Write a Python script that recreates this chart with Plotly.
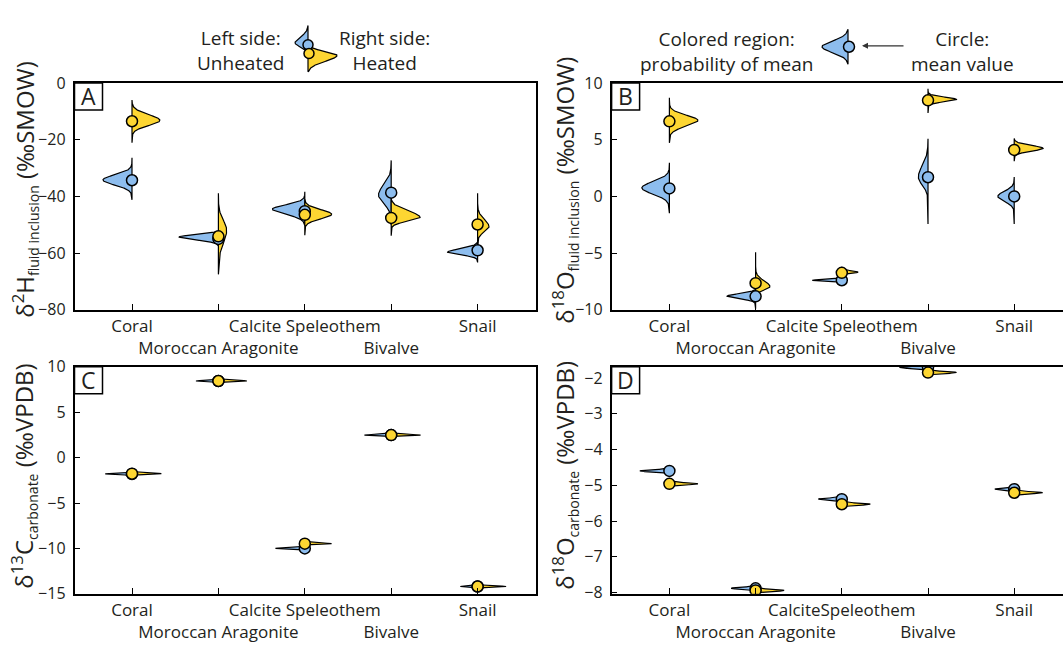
import numpy as np
import plotly.graph_objects as go

W, H = 1063, 649

# ---------------- data ----------------
categories = ["Coral", "Moroccan Aragonite", "Calcite Speleothem", "Bivalve", "Snail"]
cat_pos = [1, 2, 3, 4, 5]
ticktext_main = ["Coral", " <br>Moroccan Aragonite", "Calcite Speleothem", " <br>Bivalve", "Snail"]
ticktext_D = ["Coral", " <br>Moroccan Aragonite", "CalciteSpeleothem", " <br>Bivalve", "Snail"]

# Panel A: d2H fluid inclusion (permil SMOW)
A_unh_mean = [-34.3, -55.0, -45.2, -38.7, -59.0]
A_unh_peak = [-34.2, -54.3, -44.5, -39.5, -59.7]
A_unh_sdlo = [1.8, 1.0, 1.8, 3.0, 0.9]
A_unh_sdhi = [1.8, 0.8, 1.5, 3.5, 1.2]
A_unh_width = [0.336, 0.455, 0.375, 0.147, 0.347]
A_unh_lo = [-41.2, -57.5, -50.3, -50.0, -63.3]
A_unh_hi = [-26.4, -52.5, -38.4, -27.3, -56.0]

A_hea_mean = [-13.5, -54.1, -46.5, -47.6, -49.9]
A_hea_peak = [-13.2, -52.0, -46.3, -47.4, -50.7]
A_hea_sdlo = [1.8, 4.5, 1.6, 1.3, 1.8]
A_hea_sdhi = [2.0, 3.5, 1.6, 2.2, 2.5]
A_hea_width = [0.323, 0.096, 0.311, 0.335, 0.132]
A_hea_lo = [-21.1, -67.5, -53.7, -53.9, -58.0]
A_hea_hi = [-6.0, -38.9, -41.0, -41.0, -38.9]

# Panel B: d18O fluid inclusion (permil SMOW)
B_unh_mean = [0.70, -8.81, -7.39, 1.69, 0.0]
B_unh_peak = [0.75, -8.80, -7.40, 1.70, 0.0]
B_unh_sdlo = [0.55, 0.22, 0.07, 0.7, 0.45]
B_unh_sdhi = [0.55, 0.22, 0.07, 1.0, 0.45]
B_unh_width = [0.32, 0.331, 0.343, 0.112, 0.19]
B_unh_lo = [-1.49, -9.9, -7.7, -2.43, -2.43]
B_unh_hi = [2.96, -8.2, -7.1, 5.09, 1.7]

B_hea_mean = [6.62, -7.65, -6.74, 8.47, 4.10]
B_hea_peak = [6.70, -7.95, -6.68, 8.55, 4.24]
B_hea_sdlo = [0.5, 0.3, 0.1, 0.2, 0.25]
B_hea_sdhi = [0.45, 0.5, 0.12, 0.2, 0.25]
B_hea_width = [0.331, 0.166, 0.189, 0.331, 0.336]
B_hea_lo = [4.72, -9.3, -7.0, 7.36, 3.1]
B_hea_hi = [8.7, -4.92, -6.2, 9.49, 5.1]

# Panel C: d13C carbonate (permil VPDB)
C_unh_mean = [-1.80, 8.44, -10.0, 2.48, -14.19]
C_hea_mean = [-1.77, 8.44, -9.47, 2.48, -14.19]
C_unh_width = [0.31, 0.26, 0.34, 0.31, 0.20]
C_hea_width = [0.34, 0.33, 0.31, 0.34, 0.33]
C_spread = [0.07, 0.07, 0.07, 0.07, 0.07]

# Panel D: d18O carbonate (permil VPDB)
D_unh_mean = [-4.60, -7.88, -5.39, -1.71, -5.11]
D_hea_mean = [-4.96, -7.94, -5.53, -1.85, -5.21]
D_unh_width = [0.343, 0.284, 0.272, 0.331, 0.225]
D_hea_width = [0.331, 0.331, 0.331, 0.331, 0.331]
D_spread = [0.03, 0.03, 0.03, 0.03, 0.03]

A_yticks = [0, -20, -40, -60, -80]
B_yticks = [10, 5, 0, -5, -10]
C_yticks = [10, 5, 0, -5, -10, -15]
D_yticks = [-2, -3, -4, -5, -6, -7, -8]

# ---------------- style ----------------
BLUE = "#8DBDEE"
YELLOW = "#FDD632"
INK = "#231F20"
FONT = "Open Sans"


def half_violin(c, peak, sdlo, sdhi, width, lo, hi, side):
    y = np.linspace(lo, hi, 300)
    s = np.where(y < peak, sdlo, sdhi)
    dens = np.exp(-0.5 * ((y - peak) / s) ** 2)
    x = c + side * width * dens
    xs = np.concatenate([[c], x, [c, c]])
    ys = np.concatenate([[lo], y, [hi, lo]])
    return xs, ys


fig = go.Figure()


def add_panel(xa, ya, unh, hea):
    for side, d, color in [(-1, unh, BLUE), (1, hea, YELLOW)]:
        for i in range(5):
            xs, ys = half_violin(cat_pos[i], d["peak"][i], d["sdlo"][i], d["sdhi"][i],
                                 d["width"][i], d["lo"][i], d["hi"][i], side)
            fig.add_trace(go.Scatter(x=xs, y=ys, xaxis=xa, yaxis=ya, mode="lines",
                                     fill="toself", fillcolor=color,
                                     line=dict(color="black", width=1.2),
                                     hoverinfo="skip", showlegend=False))
    for d, color in [(unh, BLUE), (hea, YELLOW)]:
        fig.add_trace(go.Scatter(x=cat_pos, y=d["mean"], xaxis=xa, yaxis=ya, mode="markers",
                                 marker=dict(size=11, color=color, line=dict(color="black", width=1.5)),
                                 showlegend=False))


def pack(mean, peak, sdlo, sdhi, width, lo, hi):
    return dict(mean=mean, peak=peak, sdlo=sdlo, sdhi=sdhi, width=width, lo=lo, hi=hi)


def thin(mean, width, spread):
    return pack(mean, mean, spread, spread, width,
                [m - 4 * s for m, s in zip(mean, spread)],
                [m + 4 * s for m, s in zip(mean, spread)])


add_panel("x", "y",
          pack(A_unh_mean, A_unh_peak, A_unh_sdlo, A_unh_sdhi, A_unh_width, A_unh_lo, A_unh_hi),
          pack(A_hea_mean, A_hea_peak, A_hea_sdlo, A_hea_sdhi, A_hea_width, A_hea_lo, A_hea_hi))
add_panel("x2", "y2",
          pack(B_unh_mean, B_unh_peak, B_unh_sdlo, B_unh_sdhi, B_unh_width, B_unh_lo, B_unh_hi),
          pack(B_hea_mean, B_hea_peak, B_hea_sdlo, B_hea_sdhi, B_hea_width, B_hea_lo, B_hea_hi))
add_panel("x3", "y3", thin(C_unh_mean, C_unh_width, C_spread), thin(C_hea_mean, C_hea_width, C_spread))
add_panel("x4", "y4", thin(D_unh_mean, D_unh_width, D_spread), thin(D_hea_mean, D_hea_width, D_spread))

# ---------------- legend glyphs (pixel overlay) ----------------
g1 = [half_violin(308, 33, 6, 4, 13, 15, 45, -1), half_violin(308, 46, 4, 6, 29, 37, 63, 1)]
for (xs, ys), col in zip(g1, [BLUE, YELLOW]):
    fig.add_trace(go.Scatter(x=xs, y=ys, xaxis="x5", yaxis="y5", mode="lines", fill="toself",
                             fillcolor=col, line=dict(color="black", width=1.2),
                             hoverinfo="skip", showlegend=False))
fig.add_trace(go.Scatter(x=[308, 309], y=[35, 44], xaxis="x5", yaxis="y5", mode="markers",
                         marker=dict(size=10, color=[BLUE, YELLOW], line=dict(color="black", width=1.5)),
                         showlegend=False))
xs, ys = half_violin(848, 37, 6, 6, 26, 19, 55, -1)
fig.add_trace(go.Scatter(x=xs, y=ys, xaxis="x5", yaxis="y5", mode="lines", fill="toself",
                         fillcolor=BLUE, line=dict(color="black", width=1.2),
                         hoverinfo="skip", showlegend=False))
fig.add_trace(go.Scatter(x=[849], y=[37], xaxis="x5", yaxis="y5", mode="markers",
                         marker=dict(size=11, color=BLUE, line=dict(color="black", width=1.5)),
                         showlegend=False))

# ---------------- layout ----------------
xdom_L = [74.5 / W, 535.5 / W]
xdom_R = [611.6 / W, 1.0]
ydom_T = [1 - 309.3 / H, 1 - 74.5 / H]
ydom_B = [1 - 603.3 / H, 1 - 368.3 / H]
xr_L = [0.3345, 5.6701]
xr_R = [0.3295, 5.566]


def xax(dom, rng, anchor, ttext):
    return dict(domain=dom, range=rng, anchor=anchor, tickvals=cat_pos, ticktext=ttext,
                ticks="inside", ticklen=6, tickwidth=1.2, tickcolor="black", tickangle=0,
                showline=True, linecolor="black", linewidth=1.5, mirror=True,
                showgrid=False, zeroline=False, fixedrange=True,
                tickfont=dict(family=FONT, size=17, color=INK))


def yax(dom, rng, anchor, tv, mirror):
    return dict(domain=dom, range=rng, anchor=anchor, tickvals=tv,
                ticks="inside", ticklen=6, tickwidth=1.2, tickcolor="black",
                showline=True, linecolor="black", linewidth=1.5, mirror=mirror,
                showgrid=False, zeroline=False, fixedrange=True, ticklabelstandoff=4,
                tickfont=dict(family=FONT, size=16, color=INK))


fig.update_layout(
    width=W, height=H, margin=dict(l=0, r=0, t=0, b=0),
    paper_bgcolor="white", plot_bgcolor="rgba(0,0,0,0)",
    font=dict(family=FONT, color=INK),
    xaxis=xax(xdom_L, xr_L, "y", ticktext_main),
    yaxis=yax(ydom_T, [-80, 0], "x", A_yticks, True),
    xaxis2=xax(xdom_R, xr_R, "y2", ticktext_main),
    yaxis2=yax(ydom_T, [-10, 10], "x2", B_yticks, False),
    xaxis3=xax(xdom_L, xr_L, "y3", ticktext_main),
    yaxis3=yax(ydom_B, [-15, 10], "x3", C_yticks, True),
    xaxis4=xax(xdom_R, xr_R, "y4", ticktext_D),
    yaxis4=yax(ydom_B, [-8.035, -1.69], "x4", D_yticks, False),
    xaxis5=dict(domain=[0, 1], range=[0, W], anchor="y5", visible=False, fixedrange=True),
    yaxis5=dict(domain=[0, 1], range=[H, 0], anchor="x5", visible=False, fixedrange=True),
)

shapes = []
annotations = []
for letter, xa, ya, wpx in [("A", "x", "y", 461), ("B", "x2", "y2", 451.4),
                            ("C", "x3", "y3", 461), ("D", "x4", "y4", 451.4)]:
    shapes.append(dict(type="rect", xref=f"{xa} domain", yref=f"{ya} domain",
                       x0=0, x1=28 / wpx, y0=1 - 28 / 235, y1=1,
                       line=dict(color="black", width=1.5), fillcolor="white"))
    annotations.append(dict(text=letter, xref=f"{xa} domain", yref=f"{ya} domain",
                            x=14 / wpx, y=1 - 14 / 235, showarrow=False,
                            font=dict(family=FONT, size=23, color=INK),
                            xanchor="center", yanchor="middle"))

SUB = "<sub><span style='font-size:14px'>{}</span></sub>"
ytitles = [
    ("δ<sup>2</sup>H" + SUB.format("fluid inclusion") + " (‰SMOW)", 25, 185),
    ("δ<sup>18</sup>O" + SUB.format("fluid inclusion") + " (‰SMOW)", 565, 186),
    ("δ<sup>13</sup>C" + SUB.format("carbonate") + " (‰VPDB)", 24, 482),
    ("δ<sup>18</sup>O" + SUB.format("carbonate") + " (‰VPDB)", 565, 481),
]
for txt, px, py in ytitles:
    annotations.append(dict(text=txt, xref="paper", yref="paper", x=px / W, y=1 - py / H,
                            textangle=-90, showarrow=False, xanchor="center", yanchor="middle",
                            font=dict(family=FONT, size=24, color=INK)))

legend_texts = [("Left side:<br>Unheated", 240, 41), ("Right side:<br>Heated", 384, 41),
                ("Colored region:<br>probability of mean", 726, 42),
                ("Circle:<br>mean value", 962, 42)]
for txt, px, py in legend_texts:
    annotations.append(dict(text=txt, xref="paper", yref="paper", x=px / W, y=1 - py / H,
                            showarrow=False, xanchor="center", yanchor="middle", align="center",
                            font=dict(family=FONT, size=19, color=INK)))

annotations.append(dict(text="", xref="x5", yref="y5", x=862, y=36, ax=905, ay=36,
                        axref="x5", ayref="y5", showarrow=True, arrowhead=2, arrowsize=1,
                        arrowwidth=1.2, arrowcolor="#333333"))

fig.update_layout(shapes=shapes, annotations=annotations)
fig.write_html("out.html")
